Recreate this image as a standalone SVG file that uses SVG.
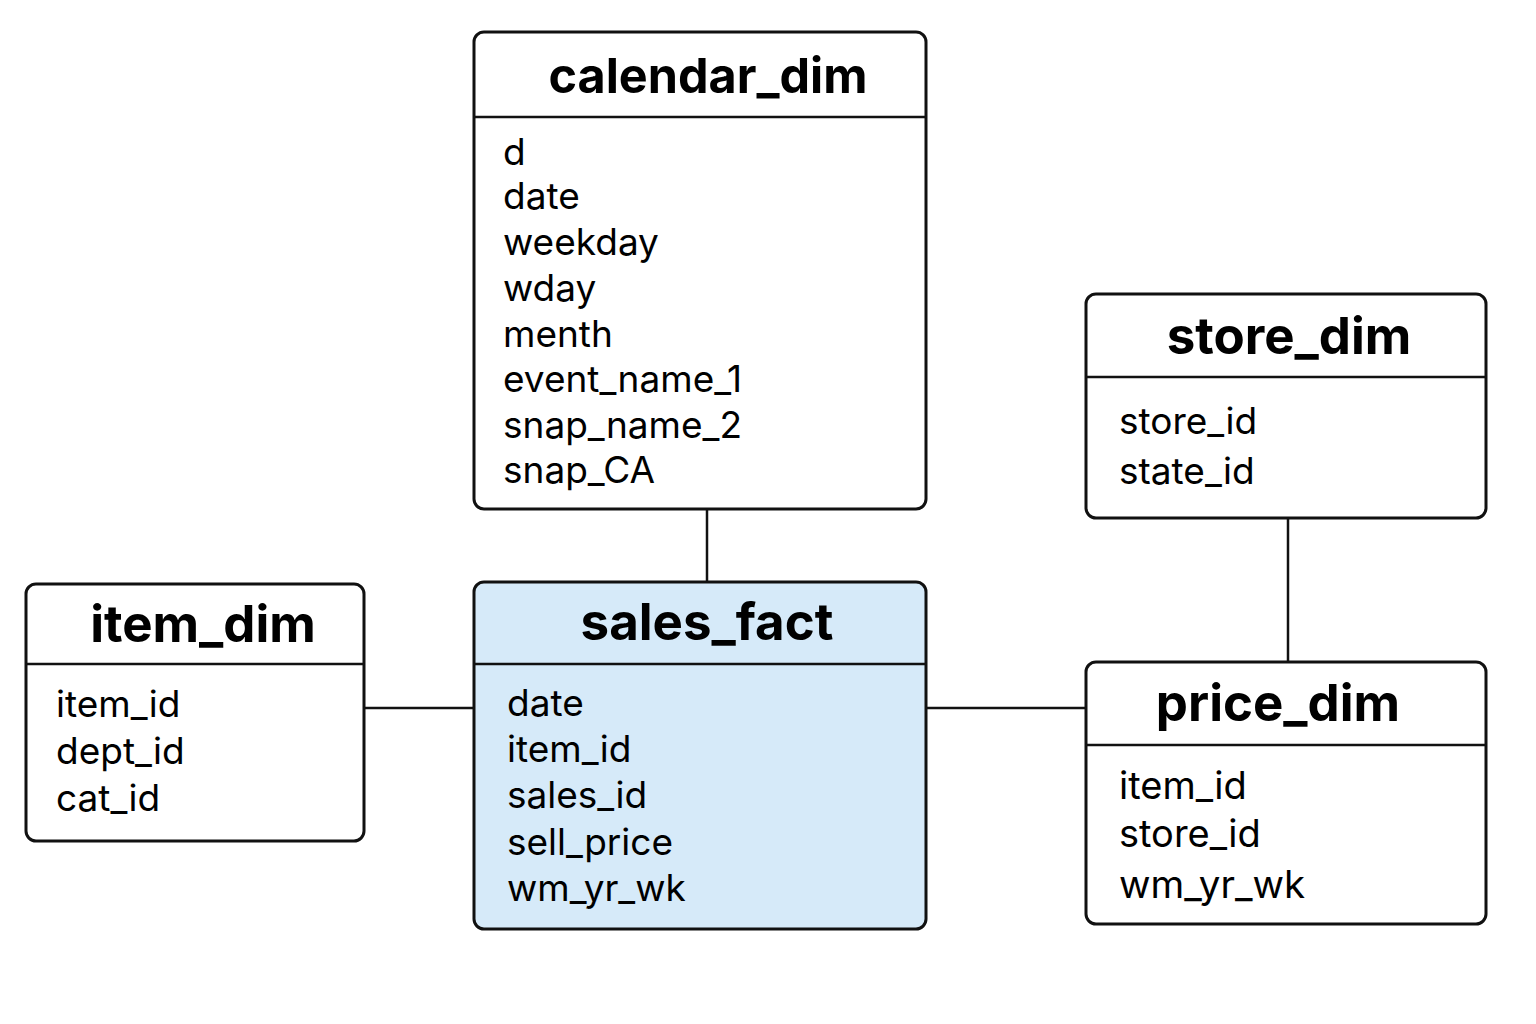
<svg xmlns="http://www.w3.org/2000/svg" width="1536" height="1024" viewBox="0 0 1536 1024">
<style>
.box{fill:#ffffff;stroke:#111111;stroke-width:3}
.fact{fill:#d6eaf9;stroke:#111111;stroke-width:3}
.sep{stroke:#111111;stroke-width:2.5}
.conn{stroke:#111111;stroke-width:2.5;fill:none}
.title{font-family:Inter,"Liberation Sans",sans-serif;font-weight:700;font-size:51px;fill:#000;text-anchor:middle}
.field{font-family:Inter,"Liberation Sans",sans-serif;font-size:37px;fill:#000}
</style>
<rect width="1536" height="1024" fill="#ffffff"/>
<g id="connectors">
<line class="conn" x1="707" y1="509" x2="707" y2="582"/>
<line class="conn" x1="364" y1="708" x2="474" y2="708"/>
<line class="conn" x1="926" y1="708" x2="1086" y2="708"/>
<line class="conn" x1="1288" y1="518" x2="1288" y2="662"/>
</g>
<g id="calendar_dim">
<rect class="box" x="474" y="32" width="452" height="477" rx="10"/>
<line class="sep" x1="474" y1="117" x2="926" y2="117"/>
<text class="title" x="708" y="93" style="font-size:48.5px">calendar_dim</text>
<text class="field" x="503" y="165">d</text>
<text class="field" x="503" y="209">date</text>
<text class="field" x="503" y="255">weekday</text>
<text class="field" x="503" y="301">wday</text>
<text class="field" x="503" y="347">menth</text>
<text class="field" x="503" y="392">event_name_1</text>
<text class="field" x="503" y="438">snap_name_2</text>
<text class="field" x="503" y="483">snap_CA</text>
</g>
<g id="store_dim">
<rect class="box" x="1086" y="294" width="400" height="224" rx="10"/>
<line class="sep" x1="1086" y1="377" x2="1486" y2="377"/>
<text class="title" x="1289" y="354">store_dim</text>
<text class="field" x="1119" y="434">store_id</text>
<text class="field" x="1119" y="484">state_id</text>
</g>
<g id="item_dim">
<rect class="box" x="26" y="584" width="338" height="257" rx="10"/>
<line class="sep" x1="26" y1="664" x2="364" y2="664"/>
<text class="title" x="203" y="642">item_dim</text>
<text class="field" x="56" y="717">item_id</text>
<text class="field" x="56" y="764">dept_id</text>
<text class="field" x="56" y="811">cat_id</text>
</g>
<g id="sales_fact">
<rect class="fact" x="474" y="582" width="452" height="347" rx="10"/>
<line class="sep" x1="474" y1="664" x2="926" y2="664"/>
<text class="title" x="707" y="640">sales_fact</text>
<text class="field" x="507" y="716">date</text>
<text class="field" x="507" y="762">item_id</text>
<text class="field" x="507" y="808">sales_id</text>
<text class="field" x="507" y="855">sell_price</text>
<text class="field" x="507" y="901">wm_yr_wk</text>
</g>
<g id="price_dim">
<rect class="box" x="1086" y="662" width="400" height="262" rx="10"/>
<line class="sep" x1="1086" y1="745" x2="1486" y2="745"/>
<text class="title" x="1278" y="721">price_dim</text>
<text class="field" x="1119" y="799" style="font-size:38px">item_id</text>
<text class="field" x="1119" y="847" style="font-size:38px">store_id</text>
<text class="field" x="1119" y="898" style="font-size:38.5px">wm_yr_wk</text>
</g>
</svg>
